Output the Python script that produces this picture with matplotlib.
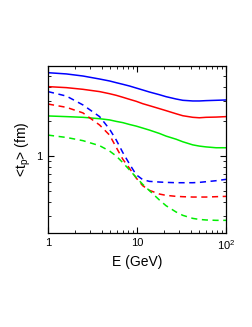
import matplotlib
matplotlib.use("Agg")
import matplotlib.pyplot as plt
from matplotlib.ticker import FixedLocator, FixedFormatter, NullFormatter, LogLocator

plt.rcParams['font.family'] = ['Liberation Sans', 'DejaVu Sans']

E = [1, 1.61, 2.47, 3.80, 4.92, 5.84, 6.94, 8.24, 9.79, 11.6, 13.8, 17.9,
     21.2, 27.5, 32.7, 42.3, 50.2, 59.7, 77.3, 100]

blue_solid = [5.30, 5.17, 4.96, 4.67, 4.49, 4.34, 4.20, 4.06, 3.90, 3.75, 3.60,
              3.41, 3.28, 3.13, 3.05, 3.01, 3.01, 3.03, 3.05, 3.07]
red_solid = [4.01, 3.93, 3.80, 3.63, 3.48, 3.37, 3.24, 3.11, 2.99, 2.85, 2.74,
             2.58, 2.48, 2.33, 2.24, 2.17, 2.15, 2.17, 2.18, 2.20]
green_solid = [2.23, 2.20, 2.17, 2.11, 2.06, 2.00, 1.95, 1.88, 1.82, 1.75, 1.68,
               1.57, 1.49, 1.40, 1.33, 1.25, 1.22, 1.20, 1.18, 1.18]
blue_dashed = [3.63, 3.32, 2.78, 2.20, 1.71, 1.38, 1.069, 0.852, 0.688, 0.623,
               0.602, 0.594, 0.590, 0.586, 0.586, 0.586, 0.590, 0.598, 0.610, 0.627]
red_dashed = [2.83, 2.65, 2.37, 1.86, 1.52, 1.19, 0.936, 0.781, 0.644, 0.552,
              0.503, 0.467, 0.455, 0.446, 0.443, 0.440, 0.440, 0.440, 0.443, 0.446]
green_dashed = [1.52, 1.45, 1.36, 1.23, 1.105, 1.00, 0.875, 0.756, 0.652, 0.567,
                0.500, 0.414, 0.370, 0.326, 0.305, 0.287, 0.281, 0.278, 0.276, 0.276]

x_ticks = [1, 10, 100]
x_tick_labels = ['1', '10', '$\\mathregular{10^2}$']
y_ticks = [1]
y_tick_labels = ['1']

fig = plt.figure(figsize=(2.53, 3.27), dpi=100)
ax = fig.add_axes([48/253, 1 - 232.7/327, (226 - 48)/253, (232.7 - 66)/327])

lw = 1.1
dash = (0, (4, 3))
ax.plot(E, blue_solid, color='#0000ff', lw=lw)
ax.plot(E, red_solid, color='#ff0000', lw=lw)
ax.plot(E, green_solid, color='#00ee00', lw=lw)
ax.plot(E, blue_dashed, color='#0000ff', lw=lw, linestyle=dash)
ax.plot(E, red_dashed, color='#ff0000', lw=lw, linestyle=dash)
ax.plot(E, green_dashed, color='#00ee00', lw=lw, linestyle=dash)

ax.set_xscale('log')
ax.set_yscale('log')
ax.set_xlim(1, 100)
ax.set_ylim(0.2155, 6.06)

ax.xaxis.set_major_locator(FixedLocator(x_ticks))
ax.xaxis.set_major_formatter(FixedFormatter(x_tick_labels))
ax.xaxis.set_minor_locator(LogLocator(base=10, subs=range(2, 10)))
ax.xaxis.set_minor_formatter(NullFormatter())
ax.yaxis.set_major_locator(FixedLocator(y_ticks))
ax.yaxis.set_major_formatter(FixedFormatter(y_tick_labels))
ax.yaxis.set_minor_locator(LogLocator(base=10, subs=range(2, 10)))
ax.yaxis.set_minor_formatter(NullFormatter())

ax.tick_params(which='both', direction='in', top=True, right=True, labelsize=8, pad=4)
ax.tick_params(which='major', length=4, width=0.8)
ax.tick_params(which='minor', length=2, width=0.6)
for s in ax.spines.values():
    s.set_linewidth(0.9)

ax.set_xlabel('E (GeV)', fontsize=10, labelpad=2)
ax.set_ylabel('<t$_\\mathregular{p}$> (fm)', fontsize=10, labelpad=2)

fig.savefig('out.png', dpi=100)
